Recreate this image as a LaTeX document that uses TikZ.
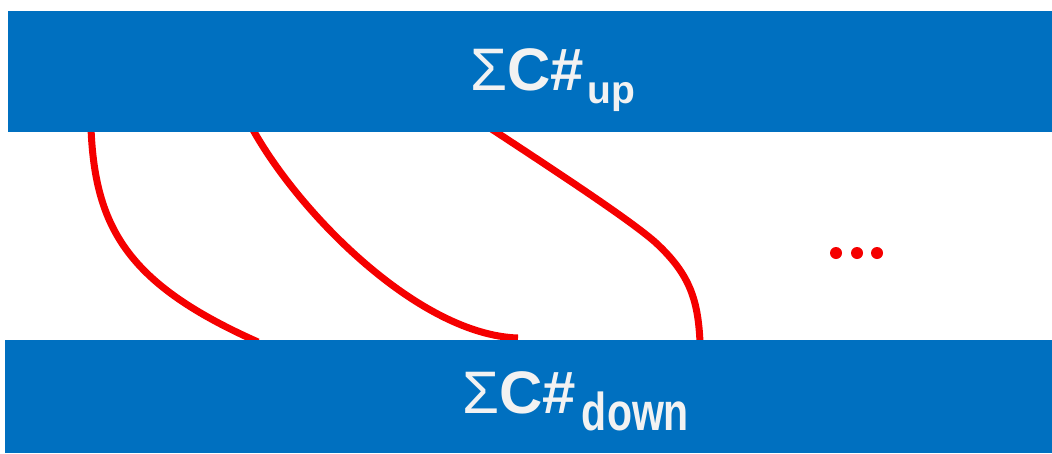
\documentclass[tikz,border=0pt]{standalone}
\usepackage{fontspec}
\setmainfont{Liberation Sans}
\definecolor{barblue}{RGB}{0,112,192}
\definecolor{labelwhite}{RGB}{242,242,242}
\definecolor{curvered}{RGB}{245,0,0}
\tikzset{
  bar/.style={fill=barblue},
  curve/.style={draw=curvered, line width=7pt, line cap=butt},
  sumlabel/.style={anchor=base west, inner sep=0pt, text=labelwhite,
    font=\bfseries\fontsize{60}{60}\selectfont},
  dotmark/.style={fill=curvered, circle, inner sep=0pt, minimum size=12pt}
}
\begin{document}
\begin{tikzpicture}[x=1pt,y=-1pt]
\useasboundingbox (0,0) rectangle (1052,453);
\fill[white] (0,0) rectangle (1052,453);
% curve end points
\coordinate (a1) at (91,128);  \coordinate (b1) at (258,342);
\coordinate (a2) at (252,128); \coordinate (b2) at (518,338);
\coordinate (a3) at (490,128); \coordinate (m3) at (655,242); \coordinate (b3) at (700,342);
% curves (drawn first, bars clip their ends)
\draw[curve] (a1) .. controls (95,230) and (130,285) .. (b1);
\draw[curve] (a2) .. controls (300,215) and (420,335) .. (b2);
\draw[curve] (a3) .. controls (560,174) and (630,220) .. (m3)
                  .. controls (690,274) and (698,300) .. (b3);
% bars
\fill[bar] (8,11) rectangle (1052,132);
\fill[bar] (5,340) rectangle (1052,453);
% labels
\node[sumlabel] (up) at (470,90) {{\mdseries Σ}C\#\hspace{4pt}\raisebox{-13pt}{\fontsize{39}{39}\selectfont up}};
\node[sumlabel] (down) at (462,413) {{\mdseries Σ}C\#\hspace{6pt}\raisebox{-17pt}{\scalebox{1}[1.3]{\fontsize{41}{41}\selectfont down}}};
% dots
\node[dotmark] (d1) at (836,253) {};
\node[dotmark] (d2) at (857,253) {};
\node[dotmark] (d3) at (877,253) {};
\end{tikzpicture}
\end{document}
